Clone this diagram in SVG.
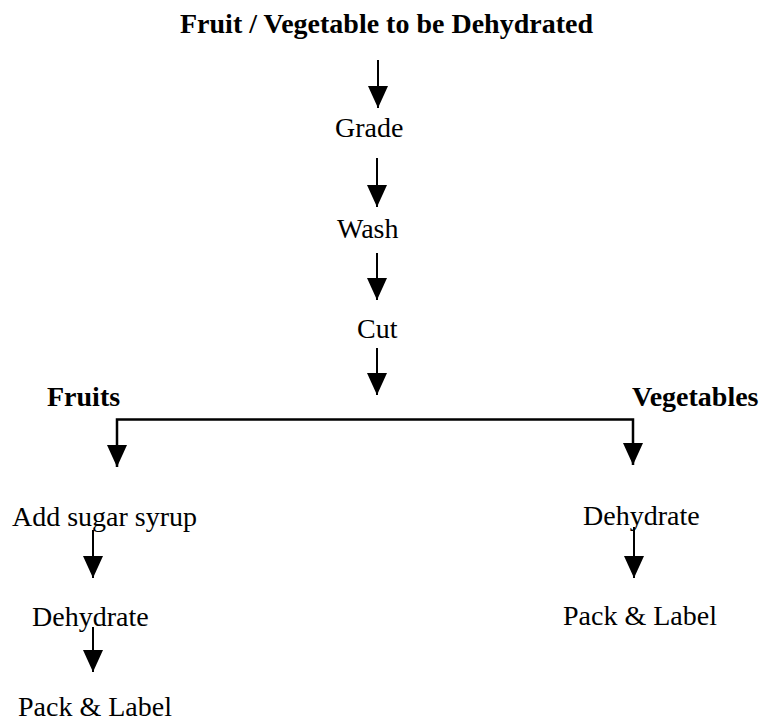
<svg xmlns="http://www.w3.org/2000/svg" width="766" height="728" viewBox="0 0 766 728">
<style>
text{font-family:"Liberation Serif","Times New Roman",serif;font-size:28px;fill:#000}
.b{font-weight:bold}
.c{stroke:#000;stroke-width:2;fill:none}
</style>
<defs>
<marker id="ah" viewBox="0 0 22 20" refX="22" refY="10" markerWidth="22" markerHeight="20" markerUnits="userSpaceOnUse" orient="auto">
<path d="M0,0 L22,10 L0,20 z" fill="#000"/>
</marker>
</defs>
<rect width="766" height="728" fill="#fff"/>
<g id="n-title"><text class="b" x="180" y="33">Fruit / Vegetable to be Dehydrated</text></g>
<g id="n-grade"><text x="335" y="137">Grade</text></g>
<g id="n-wash"><text x="337" y="238">Wash</text></g>
<g id="n-cut"><text x="357" y="338">Cut</text></g>
<g id="n-fruits"><text class="b" x="47" y="406">Fruits</text></g>
<g id="n-vegetables"><text class="b" x="632" y="406">Vegetables</text></g>
<g id="n-syrup"><text x="12" y="526">Add sugar syrup</text></g>
<g id="n-dehyd-f"><text x="32" y="626">Dehydrate</text></g>
<g id="n-pack-f"><text x="18" y="716">Pack &amp; Label</text></g>
<g id="n-dehyd-v"><text x="583" y="525">Dehydrate</text></g>
<g id="n-pack-v"><text x="563" y="625">Pack &amp; Label</text></g>
<g id="connectors" class="c">
<line x1="378" y1="60" x2="378" y2="108" marker-end="url(#ah)"/>
<line x1="377" y1="158" x2="377" y2="207" marker-end="url(#ah)"/>
<line x1="377" y1="253" x2="377" y2="300" marker-end="url(#ah)"/>
<line x1="377" y1="348" x2="377" y2="395" marker-end="url(#ah)"/>
<polyline points="117,467 117,419.5 633,419.5 633,465" stroke-width="2.5"/>
<line x1="117" y1="440" x2="117" y2="467" marker-end="url(#ah)"/>
<line x1="633" y1="440" x2="633" y2="465" marker-end="url(#ah)"/>
<line x1="93" y1="530" x2="93" y2="578" marker-end="url(#ah)"/>
<line x1="93" y1="627" x2="93" y2="672" marker-end="url(#ah)"/>
<line x1="634" y1="527" x2="634" y2="578" marker-end="url(#ah)"/>
</g>
</svg>
